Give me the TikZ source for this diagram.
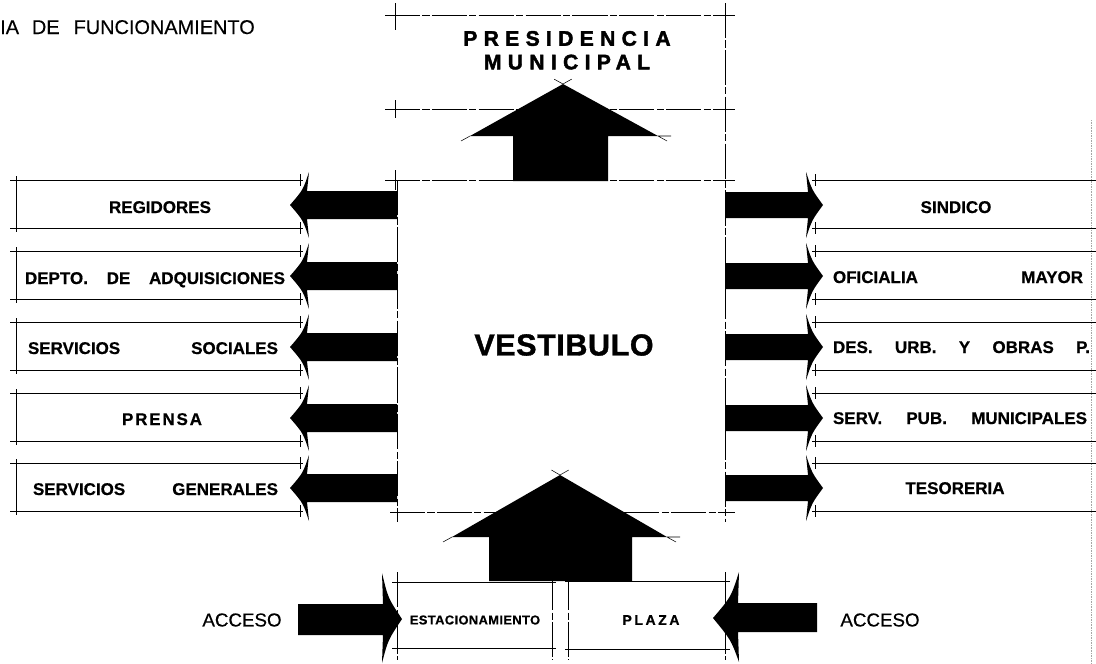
\documentclass[tikz,border=0pt]{standalone}
\usepackage{fontspec}
\setmainfont{Liberation Sans}
\newfontfamily\labfont[FakeBold=0.6]{Liberation Sans Bold}
\newfontfamily\heavyfont[LetterSpace=30,FakeBold=2]{Liberation Sans Bold}
\newfontfamily\vestfont[LetterSpace=2,FakeBold=1.2]{Liberation Sans Bold}
\newfontfamily\smallfont[LetterSpace=3,FakeBold=0.5]{Liberation Sans Bold}
\newfontfamily\plazafont[LetterSpace=18,FakeBold=0.6]{Liberation Sans Bold}
\newfontfamily\accfont[FakeBold=0.4]{Liberation Sans}
\usetikzlibrary{positioning}

\begin{document}
\begin{tikzpicture}
  [x=0.03cm, y=-0.03cm,
   rule/.style = {line width=0.5pt},
   frame/.style = {line width=0.5pt, dash pattern=on 30pt off 2pt on 6pt off 2pt},
   tick/.style = {line width=0.45pt},
   lab/.style = {font=\labfont\fontsize{14.5}{17}\selectfont, anchor=base, inner sep=0pt}]
  \useasboundingbox (0,0) rectangle (1096,663);

  % guide lines
  \draw[frame] (385,15) -- (735,15);
  \draw[frame] (385,109) -- (735,109);
  \draw[frame] (385,180) -- (735,180);
  \draw[frame] (390,512) -- (735,512);
  \draw[tick] (395,3) -- (395,30) (395,100) -- (395,118) (395,170) -- (395,190);
  \draw[frame] (725,3) -- (725,522);
  \draw[frame] (397,180) -- (397,522);
  \draw[gray!70, densely dotted] (1091,120) -- (1091,663);

  \node (titulo) [anchor=base west, inner sep=0pt, font=\accfont\fontsize{17}{20}\selectfont] at (0,34)
    {IA\hspace{11pt}DE\hspace{12pt}FUNCIONAMIENTO};
  \node (presid) [font=\heavyfont\fontsize{18}{21}\selectfont, inner sep=0pt] at (567,38.5) {PRESIDENCIA};
  \node (munic) [font=\heavyfont\fontsize{18}{21}\selectfont, inner sep=0pt, below=7pt of presid] {MUNICIPAL};
  \node (vest) [font=\vestfont\fontsize{26}{30}\selectfont, inner sep=0pt] at (564,345) {VESTIBULO};

  % up arrows
  \fill (513,181) -- (513,136) -- (470,136) -- (563,84) -- (658,136) -- (608,136) -- (608,181) -- cycle;
  \draw[tick] (563,84) -- (571.7,79.1) (563,84) -- (554.2,79.2)
    (470,136) -- (461,141) (658,136) -- (667,141) (658,136) -- (671,136);
  \fill (489,581) -- (489,537) -- (452,537) -- (560,475) -- (667,537) -- (632,537) -- (632,581) -- cycle;
  \draw[tick] (560,475) -- (568.7,470) (560,475) -- (551.4,470)
    (452,537) -- (443,542) (667,537) -- (676,542) (667,537) -- (680,537);

  % side rows
  \foreach \r in {205,276,347,418,488} {
    \fill (397,\r-14) -- (307,\r-14) -- (309,\r-33) .. controls (303,\r-15) .. (290,\r)
      .. controls (303,\r+15) .. (309,\r+33) -- (307,\r+14) -- (397,\r+14) -- cycle;
    \fill (725,\r-13) -- (808,\r-13) -- (806,\r-33) .. controls (812,\r-15) .. (823,\r)
      .. controls (812,\r+15) .. (806,\r+33) -- (808,\r+13) -- (725,\r+13) -- cycle;
    \draw[rule] (10,\r-25) -- (303,\r-25) (10,\r+23) -- (303,\r+23) (16,\r-29) -- (16,\r+27);
    \draw[tick] (300,\r-31) -- (300,\r-19) (300,\r+17) -- (300,\r+29);
    \draw[rule] (812,\r-25) -- (1096,\r-25) (812,\r+23) -- (1096,\r+23);
    \draw[tick] (815,\r-31) -- (815,\r-19) (815,\r+17) -- (815,\r+29);
  }

  \node (regid) [lab] at (160,213) {REGIDORES};
  \node (adquis) [lab] at (155,284) {\makebox[7.8cm][s]{DEPTO.\hfill DE\hfill ADQUISICIONES}};
  \node (social) [lab] at (153,354) {\makebox[7.5cm][s]{SERVICIOS\hfill SOCIALES}};
  \node (prensa) [lab] at (162,425) {\makebox[2.4cm][s]{P\hfill R\hfill E\hfill N\hfill S\hfill A}};
  \node (general) [lab] at (155.5,495) {\makebox[7.35cm][s]{SERVICIOS\hfill GENERALES}};

  \node (sindico) [lab] at (956,213) {SINDICO};
  \node (oficial) [lab] at (958,283) {\makebox[7.5cm][s]{OFICIALIA\hfill MAYOR}};
  \node (desurb) [lab] at (961.5,353) {\makebox[7.71cm][s]{DES.\hfill URB.\hfill Y\hfill OBRAS\hfill P.}};
  \node (servpub) [lab] at (960,424) {\makebox[7.62cm][s]{SERV.\hfill PUB.\hfill MUNICIPALES}};
  \node (tesor) [lab] at (955,494) {TESORERIA};

  % bottom row
  \draw[rule] (392,582) -- (556,582) (392,648) -- (556,648);
  \draw[rule] (565,581) -- (730,581) (565,649) -- (730,649);
  \draw[frame] (397,572) -- (397,660) (552,575) -- (552,660) (568,575) -- (568,660) (725,572) -- (725,660);
  \fill (298,604) -- (383,604) -- (382,573) .. controls (388,598) .. (402,619)
    .. controls (388,640) .. (382,663) -- (383,635) -- (298,635) -- cycle;
  \fill (817,603) -- (738,603) -- (739,572) .. controls (731,597) .. (713,618)
    .. controls (731,640) .. (739,662) -- (738,632) -- (817,632) -- cycle;
  \node (estac) [font=\smallfont\fontsize{11}{13}\selectfont, inner sep=0pt] at (475,620) {ESTACIONAMIENTO};
  \node (plaza) [font=\plazafont\fontsize{12}{14}\selectfont, inner sep=0pt] at (651,620) {PLAZA};
  \node (acceso1) [font=\accfont\fontsize{16}{19}\selectfont, inner sep=0pt] at (242,620) {ACCESO};
  \node (acceso2) [font=\accfont\fontsize{16}{19}\selectfont, inner sep=0pt] at (880,620) {ACCESO};
\end{tikzpicture}
\end{document}
